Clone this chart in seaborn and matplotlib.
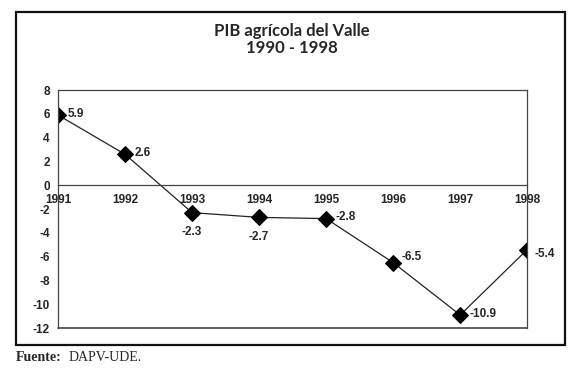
import matplotlib
matplotlib.use("Agg")
import matplotlib.pyplot as plt
import seaborn as sns
import pandas as pd
from matplotlib.patches import Rectangle

# data
years = [1991, 1992, 1993, 1994, 1995, 1996, 1997, 1998]
pib = [5.9, 2.6, -2.3, -2.7, -2.8, -6.5, -10.9, -5.4]
y_ticks = [-12, -10, -8, -6, -4, -2, 0, 2, 4, 6, 8]

# label placement (offset in points) per point
label_offsets = [(7, 1), (7, 1), (0, -14), (0, -14), (7, 1), (6, 4), (7, 1), (5, -3)]

df = pd.DataFrame({"year": years, "pib": pib})

sns.set_style("white")
plt.rcParams["font.family"] = ["Liberation Sans", "DejaVu Sans"]
plt.rcParams["axes.unicode_minus"] = False

fig = plt.figure(figsize=(5.8, 3.72), dpi=100)
ax = fig.add_axes([0.1, 0.118, 0.809, 0.64])

sns.lineplot(data=df, x="year", y="pib", ax=ax, color="#222222", lw=0.9,
             marker="D", markersize=8, markerfacecolor="black",
             markeredgecolor="black")

for yr, val, off in zip(years, pib, label_offsets):
    ha = "left" if off[0] > 2 else "center"
    ax.annotate(f"{val:.1f}", (yr, val), xytext=off, textcoords="offset points",
                ha=ha, va="center", fontsize=8.5, fontweight="bold")

ax.set_xlim(years[0], years[-1])
ax.set_ylim(y_ticks[0], y_ticks[-1])
ax.set_yticks(y_ticks)
ax.set_xticks(years)
ax.set_xticklabels([str(y) for y in years])
ax.set_xlabel("")
ax.set_ylabel("")

ax.spines["bottom"].set_position(("data", 0))
for s in ax.spines.values():
    s.set_color("#444444")
    s.set_linewidth(0.9)
ax.axhline(y_ticks[0], color="#444444", lw=1.2, clip_on=False)

ax.tick_params(axis="x", direction="in", length=4, pad=6, labelsize=8.5,
               color="#444444")
ax.tick_params(axis="y", direction="out", length=3, pad=3, labelsize=8.5,
               color="#444444")
for lbl in ax.get_xticklabels() + ax.get_yticklabels():
    lbl.set_fontweight("bold")

# titles
fig.text(0.503, 0.918, "PIB agrícola del Valle", ha="center", va="center",
         fontsize=12, fontweight="bold", family=["Lato", "DejaVu Sans"])
fig.text(0.503, 0.872, "1990 - 1998", ha="center", va="center",
         fontsize=12, fontweight="bold", family=["Lato", "DejaVu Sans"])

# outer frame
fig.patches.append(Rectangle((0.028, 0.073), 0.946, 0.895, transform=fig.transFigure,
                             fill=False, lw=1.6, edgecolor="#111111"))

# source note
fig.text(0.028, 0.04, "Fuente:", ha="left", va="center", fontsize=10,
         fontweight="bold", family=["Liberation Serif", "DejaVu Serif"])
fig.text(0.118, 0.04, "DAPV-UDE.", ha="left", va="center", fontsize=10,
         family=["Liberation Serif", "DejaVu Serif"])

fig.savefig("out.png", dpi=100)
